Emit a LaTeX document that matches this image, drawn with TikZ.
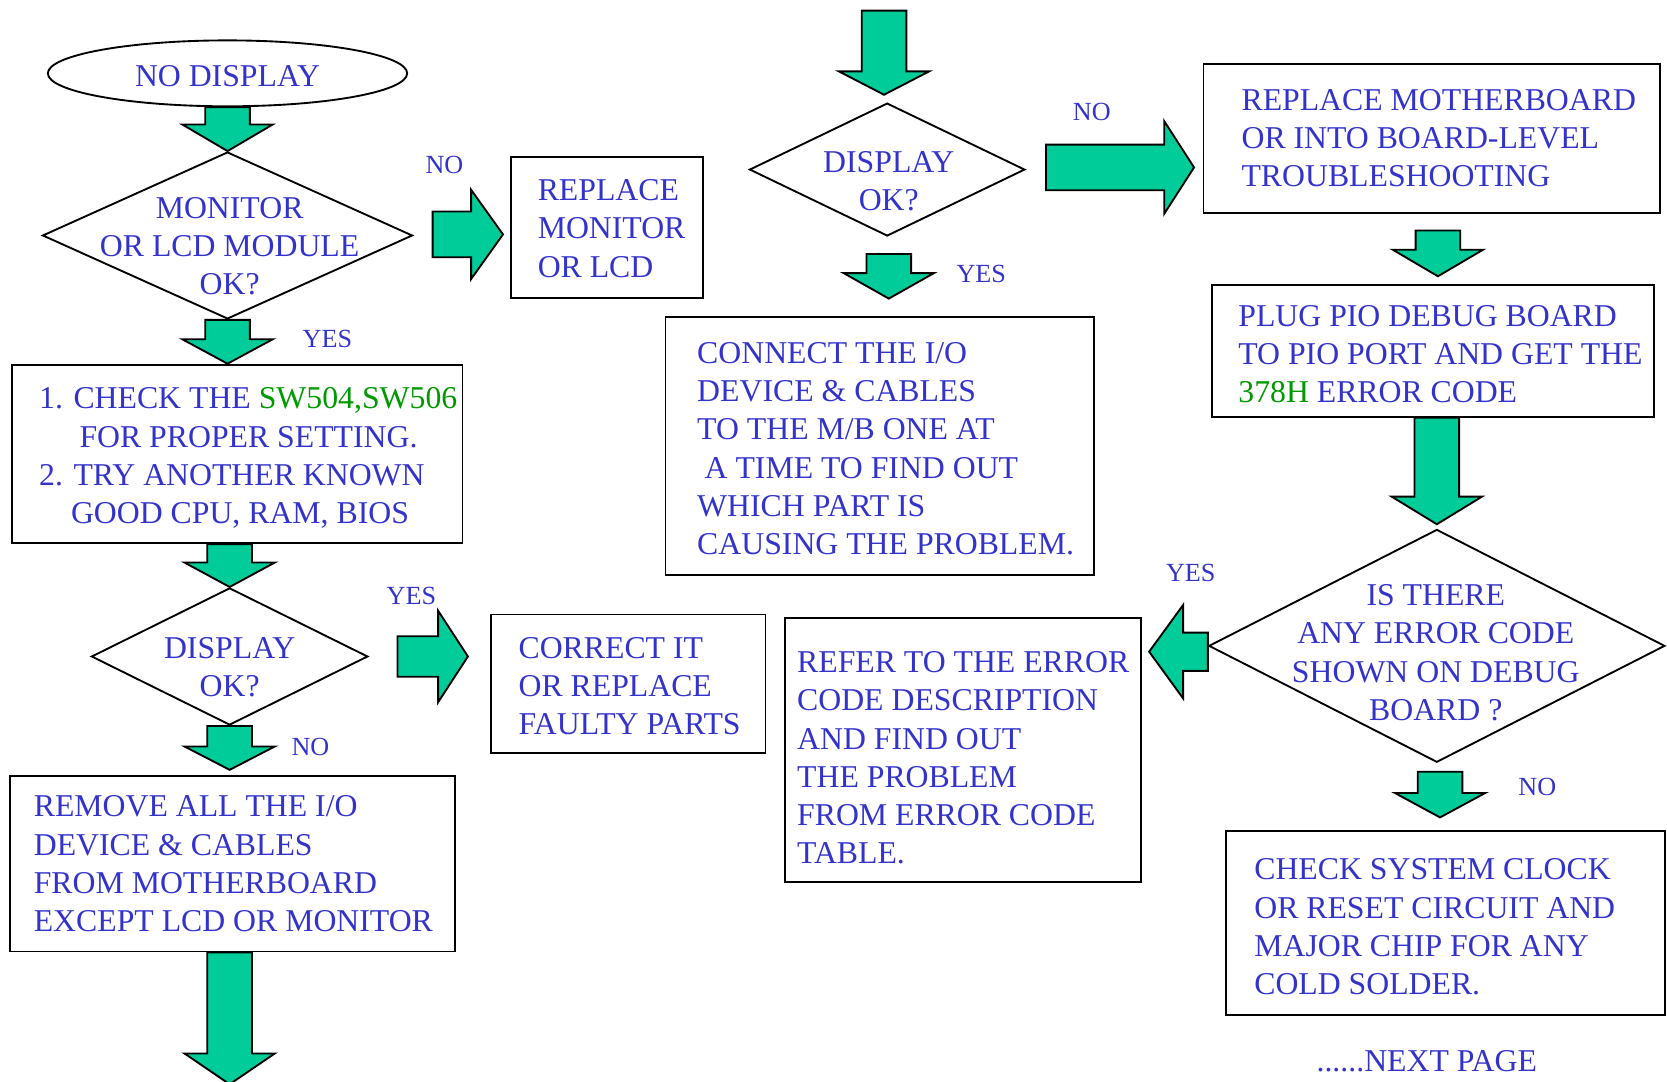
\documentclass[tikz,border=0pt]{standalone}
\usepackage{fontspec}
\setmainfont{Liberation Serif}
\usetikzlibrary{shapes.geometric, calc}
\definecolor{figT}{RGB}{51,51,204}
\definecolor{figA}{RGB}{0,204,153}
\definecolor{figS}{RGB}{0,153,0}
\tikzset{
  fat head/.store in=\fathead, fat head=0.24cm,
  fat shaft/.store in=\fatshaft, fat shaft=0.21cm,
  fat wing/.store in=\fatwing, fat wing=0.425cm,
  fat/.style={draw=black, line width=0.5pt, fill=figA, to path={
    ($(\tikztostart)!\fatshaft!90:(\tikztotarget)$)
    -- ($($(\tikztotarget)!\fathead!(\tikztostart)$)!\fatshaft!90:(\tikztotarget)$)
    -- ($($(\tikztotarget)!\fathead!(\tikztostart)$)!\fatwing!90:(\tikztotarget)$)
    -- (\tikztotarget)
    -- ($($(\tikztotarget)!\fathead!(\tikztostart)$)!\fatwing!-90:(\tikztotarget)$)
    -- ($($(\tikztotarget)!\fathead!(\tikztostart)$)!\fatshaft!-90:(\tikztotarget)$)
    -- ($(\tikztostart)!\fatshaft!-90:(\tikztotarget)$) -- cycle}},
  box/.style={draw, rectangle, line width=0.5pt, inner sep=0pt},
  decision/.style={draw, diamond, line width=0.5pt, inner sep=0pt},
  txt/.style={text=figT, font=\fontsize{8.5}{10.24}\selectfont, align=left, inner sep=0pt},
  yesno/.style={text=figT, font=\fontsize{7}{8.4}\selectfont, inner sep=0pt}}

\begin{document}
\begin{tikzpicture}
\useasboundingbox (0,0) rectangle (15.68,-10.17);
% ===== left column =====
\node[draw, ellipse, line width=0.5pt, minimum width=3.38cm, minimum height=0.62cm, inner sep=0pt,
  text height=7.3pt, text depth=0pt, text=figT, font=\fontsize{8.5}{10.24}\selectfont] (nd) at (2.14,-0.69) {NO DISPLAY};
\node[decision, minimum width=3.48cm, minimum height=1.57cm] (d1) at (2.14,-2.215) {};
\node[txt, align=center] (d1t) at ($(d1)+(0.02,-0.10)$) {MONITOR\\OR LCD MODULE\\OK?};
\node[box, minimum width=1.80cm, minimum height=1.32cm] (rep1) at (5.71,-2.14) {};
\node[txt, anchor=west] (rep1t) at ($(rep1.west)+(0.25,-0.01)$) {REPLACE\\MONITOR\\OR LCD};
\node[box, minimum width=4.24cm, minimum height=1.68cm] (sw) at (2.23,-4.27) {};
\node[txt, anchor=west] (swt) at ($(sw.west)+(0.26,-0.04)$)
  {1. CHECK THE \textcolor{figS}{SW504,SW506}\\\hspace*{0.38cm}FOR PROPER SETTING.\\
   2. TRY ANOTHER KNOWN\\\hspace*{0.30cm}GOOD CPU, RAM, BIOS};
\node[decision, minimum width=2.60cm, minimum height=1.29cm] (d2) at (2.16,-6.175) {};
\node[txt, align=center] (d2t) at ($(d2)+(0,-0.10)$) {DISPLAY\\OK?};
\node[box, minimum width=2.58cm, minimum height=1.30cm] (fix) at (5.91,-6.43) {};
\node[txt, anchor=west] (fixt) at ($(fix.west)+(0.26,-0.025)$) {CORRECT IT\\OR REPLACE\\FAULTY PARTS};
\node[box, minimum width=4.19cm, minimum height=1.65cm] (rmv) at (2.185,-8.125) {};
\node[txt, anchor=west] (rmvt) at ($(rmv.west)+(0.23,0)$)
  {REMOVE ALL THE I/O\\DEVICE \& CABLES\\FROM MOTHERBOARD\\EXCEPT LCD OR MONITOR};
% ===== middle column =====
\node[decision, minimum width=2.59cm, minimum height=1.25cm] (d4) at (8.345,-1.595) {};
\node[txt, align=center] (d4t) at ($(d4)+(0.015,-0.11)$) {DISPLAY\\OK?};
\node[box, minimum width=4.03cm, minimum height=2.43cm] (conn) at (8.275,-4.195) {};
\node[txt, anchor=west] (connt) at ($(conn.west)+(0.30,-0.025)$)
  {CONNECT THE I/O\\DEVICE \& CABLES\\TO THE M/B ONE AT\\\hspace*{0.07cm}A TIME TO FIND OUT\\
   WHICH PART IS\\CAUSING THE PROBLEM.};
\node[box, minimum width=3.35cm, minimum height=2.49cm] (ref) at (9.055,-7.055) {};
\node[txt, anchor=west] (reft) at ($(ref.west)+(0.12,-0.075)$)
  {REFER TO THE ERROR\\CODE DESCRIPTION\\AND FIND OUT\\THE PROBLEM\\FROM ERROR CODE\\TABLE.};
% ===== right column =====
\node[box, minimum width=4.29cm, minimum height=1.40cm] (rmb) at (13.465,-1.30) {};
\node[txt, anchor=west] (rmbt) at ($(rmb.west)+(0.36,0)$)
  {REPLACE MOTHERBOARD\\OR INTO BOARD-LEVEL\\TROUBLESHOOTING};
\node[box, minimum width=4.16cm, minimum height=1.24cm] (plug) at (13.48,-3.30) {};
\node[txt, anchor=west] (plugt) at ($(plug.west)+(0.25,-0.03)$)
  {PLUG PIO DEBUG BOARD\\TO PIO PORT AND GET THE\\\textcolor{figS}{378H} ERROR CODE};
\node[decision, minimum width=4.29cm, minimum height=2.19cm] (d5) at (13.515,-6.075) {};
\node[txt, align=center] (d5t) at ($(d5)+(-0.01,-0.065)$)
  {IS THERE\\ANY ERROR CODE\\SHOWN ON DEBUG\\BOARD ?};
\node[box, minimum width=4.13cm, minimum height=1.73cm] (clk) at (13.595,-8.685) {};
\node[txt, anchor=west] (clkt) at ($(clk.west)+(0.27,-0.035)$)
  {CHECK SYSTEM CLOCK\\OR RESET CIRCUIT AND\\MAJOR CHIP FOR ANY\\COLD SOLDER.};
\node[txt] (nxt) at (13.42,-9.98) {......NEXT PAGE};
% ===== arrow ends =====
\coordinate (a2s) at ($(d1.east)+(0.18,0.01)$);
\coordinate (a2e) at ($(a2s -| rep1.west)+(-0.07,0)$);
\coordinate (a3e) at (d1.south |- sw.north);
\coordinate (a4s) at (d2.north |- sw.south);
\coordinate (a5s) at ($(d2.east)+(0.27,0)$);
\coordinate (a5e) at ($(a5s -| fix.west)+(-0.21,0)$);
\coordinate (a6e) at ($(d2.south |- rmv.north)+(0,0.05)$);
\coordinate (a7s) at (d2.south |- rmv.south);
\coordinate (a7e) at ($(a7s)+(0,-1.24)$);
\coordinate (a8s) at (8.315,-0.10);
\coordinate (a8e) at ($(a8s |- d4.north)+(0,0.07)$);
\coordinate (a9s) at ($(d4.east)+(0.19,0.02)$);
\coordinate (a9e) at ($(a9s -| rmb.west)+(-0.08,0)$);
\coordinate (a10s) at ($(d4.south)+(0.015,-0.16)$);
\coordinate (a10e) at ($(a10s)+(0,-0.42)$);
\coordinate (a11s) at ($(rmb.south)+(0.06,-0.16)$);
\coordinate (a11e) at ($(a11s)+(0,-0.43)$);
\coordinate (a12s) at (d5.north |- plug.south);
\coordinate (a12e) at ($(d5.north)+(0,0.04)$);
\coordinate (a13s) at ($(d5.west)+(0,-0.055)$);
\coordinate (a13e) at ($(a13s -| ref.east)+(0.07,0)$);
\coordinate (a14s) at ($(d5.south)+(0.03,-0.08)$);
\coordinate (a14e) at ($(a14s)+(0,-0.43)$);
% ===== block arrows =====
\draw[fat, fat head=0.25cm] (nd.south) to (d1.north);
\draw[fat, fat head=0.30cm, fat shaft=0.215cm, fat wing=0.42cm] (a2s) to (a2e);
\draw[fat, fat head=0.23cm] (d1.south) to (a3e);
\draw[fat, fat head=0.23cm] (a4s) to (d2.north);
\draw[fat, fat head=0.28cm, fat shaft=0.19cm, fat wing=0.43cm] (a5s) to (a5e);
\draw[fat, fat head=0.22cm] (d2.south) to (a6e);
\draw[fat, fat head=0.29cm] (a7s) to (a7e);
\draw[fat, fat head=0.22cm] (a8s) to (a8e);
\draw[fat, fat head=0.28cm, fat shaft=0.215cm, fat wing=0.435cm] (a9s) to (a9e);
\draw[fat] (a10s) to (a10e);
\draw[fat, fat head=0.25cm] (a11s) to (a11e);
\draw[fat, fat head=0.26cm] (a12s) to (a12e);
\draw[fat, fat head=0.32cm, fat shaft=0.18cm, fat wing=0.44cm] (a13s) to (a13e);
\draw[fat, fat head=0.23cm] (a14s) to (a14e);
% yes / no labels
\node[yesno] (no1) at (4.18,-1.55) {NO};
\node[yesno] (yes1) at (3.08,-3.19) {YES};
\node[yesno] (yes2) at (3.87,-5.61) {YES};
\node[yesno] (no2) at (2.92,-7.03) {NO};
\node[yesno] (no3) at (10.27,-1.05) {NO};
\node[yesno] (yes3) at (9.23,-2.58) {YES};
\node[yesno] (yes4) at (11.20,-5.39) {YES};
\node[yesno] (no4) at (14.46,-7.40) {NO};
\end{tikzpicture}
\end{document}
